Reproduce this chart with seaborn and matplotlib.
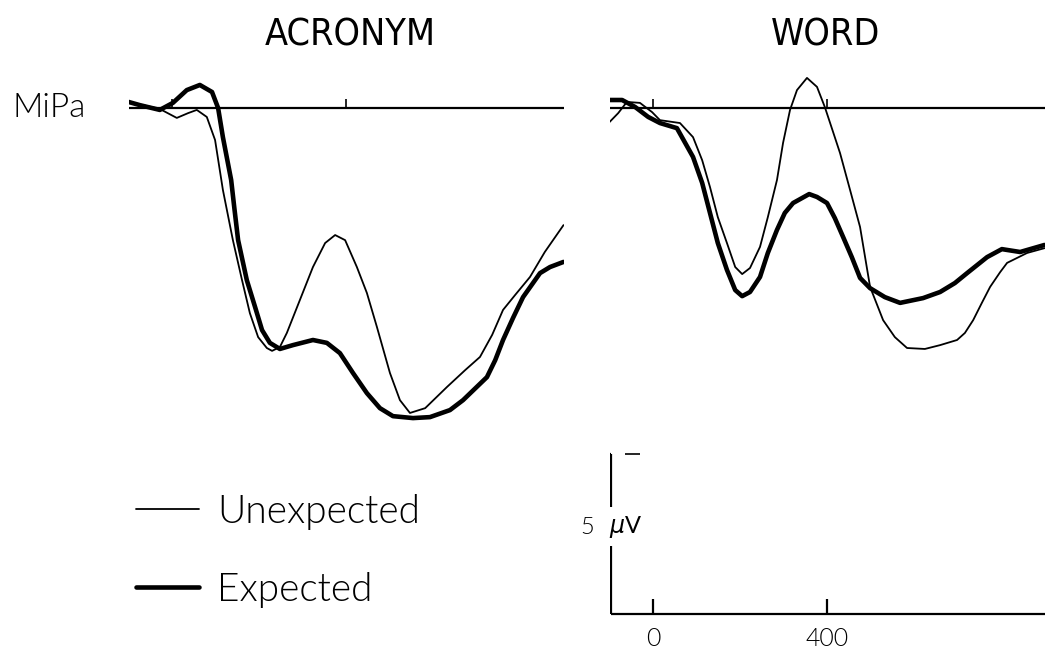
import numpy as np
import pandas as pd
import matplotlib
matplotlib.use("Agg")
import matplotlib.pyplot as plt
import seaborn as sns

# ---------------- data (time in ms, amplitude in microvolts, negative plotted up) ----------------
acr_unexp_t = [-100, -67, -28, 11, 37, 57, 80, 99, 117, 140, 161, 179, 198, 218, 230, 248, 264,
               294, 324, 352, 375, 398, 425, 448, 471, 501, 524, 547, 582, 632, 674, 708, 736,
               761, 789, 823, 857, 900]
acr_unexp_v = [-0.16, -0.09, 0.03, 0.31, 0.16, 0.06, 0.28, 1.0, 2.56, 4.13, 5.38, 6.41, 7.16,
               7.5, 7.59, 7.47, 7.03, 6.0, 4.97, 4.22, 3.97, 4.13, 4.97, 5.78, 6.84, 8.28, 9.13,
               9.53, 9.38, 8.72, 8.19, 7.78, 7.09, 6.31, 5.84, 5.28, 4.5, 3.66]

acr_exp_t = [-100, -74, -28, 2, 34, 64, 92, 106, 117, 136, 143, 152, 172, 191, 207, 225, 248,
             278, 324, 356, 386, 416, 448, 478, 508, 554, 593, 639, 669, 724, 743, 761, 784,
             807, 846, 869, 900]
acr_exp_v = [-0.19, -0.09, 0.06, -0.16, -0.56, -0.72, -0.5, 0.0, 0.91, 2.25, 3.09, 4.13, 5.38,
             6.22, 6.94, 7.34, 7.53, 7.41, 7.25, 7.34, 7.66, 8.28, 8.91, 9.38, 9.63, 9.69, 9.66,
             9.44, 9.13, 8.41, 7.88, 7.25, 6.56, 5.91, 5.16, 4.97, 4.81]

word_unexp_t = [-100, -80, -60, -30, -2, 16, 62, 92, 113, 131, 149, 170, 189, 205, 223, 246,
                264, 285, 299, 315, 331, 354, 377, 395, 414, 430, 453, 476, 499, 529, 556, 584,
                625, 660, 699, 717, 736, 756, 775, 798, 814, 860, 900]
word_unexp_v = [0.44, 0.16, -0.19, -0.16, 0.13, 0.38, 0.47, 0.91, 1.63, 2.47, 3.41, 4.22, 4.97,
                5.19, 5.0, 4.34, 3.41, 2.25, 1.09, 0.06, -0.56, -0.94, -0.66, -0.03, 0.75, 1.41,
                2.56, 3.72, 5.59, 6.63, 7.16, 7.5, 7.53, 7.41, 7.25, 7.03, 6.63, 6.09, 5.59, 5.13,
                4.84, 4.53, 4.38]

word_exp_t = [-100, -71, -41, -11, 16, 55, 92, 113, 131, 149, 170, 189, 205, 223, 246, 264, 285,
              303, 322, 359, 377, 400, 418, 437, 457, 476, 499, 533, 568, 621, 660, 694, 722,
              768, 802, 844, 900]
word_exp_v = [-0.25, -0.25, -0.03, 0.28, 0.47, 0.63, 1.53, 2.34, 3.28, 4.22, 5.06, 5.69, 5.88,
              5.75, 5.28, 4.53, 3.81, 3.28, 2.97, 2.69, 2.78, 2.97, 3.44, 4.03, 4.66, 5.31, 5.63,
              5.91, 6.09, 5.94, 5.75, 5.47, 5.16, 4.66, 4.41, 4.5, 4.28]

panels = ["ACRONYM", "WORD"]
conditions = ["Unexpected", "Expected"]
x_ticks = [0, 400]
x_tick_labels = ["0", "400"]
scale_uv = 5
channel = "MiPa"

# ---------------- long table ----------------
rows = []
for panel, cond, ts, vs in [
    ("ACRONYM", "Unexpected", acr_unexp_t, acr_unexp_v),
    ("ACRONYM", "Expected", acr_exp_t, acr_exp_v),
    ("WORD", "Unexpected", word_unexp_t, word_unexp_v),
    ("WORD", "Expected", word_exp_t, word_exp_v),
]:
    for t, v in zip(ts, vs):
        rows.append({"panel": panel, "condition": cond, "time": t, "amp": v})
df = pd.DataFrame(rows)

# ---------------- style ----------------
sns.set_theme(style="white")
plt.rcParams["font.family"] = ["Lato", "DejaVu Sans"]
plt.rcParams["text.color"] = "black"
plt.rcParams["mathtext.fontset"] = "dejavusans"
LIGHT = 300

W, H = 1050, 659
fig = plt.figure(figsize=(W / 100, H / 100), dpi=100)
fig.patch.set_facecolor("white")

px_per_ms = 0.435
px_per_uv = 32.0
base_py = 108.0
zero_px = {"ACRONYM": 172.0, "WORD": 653.0}

axes = {}
for panel in panels:
    left = zero_px[panel] - 100 * px_per_ms
    ax = fig.add_axes([left / W, 0, 1000 * px_per_ms / W, 1])
    ax.set_xlim(-100, 900)
    ax.set_ylim((H - base_py) / px_per_uv, -base_py / px_per_uv)
    ax.axis("off")
    axes[panel] = ax

palette = {"Unexpected": "black", "Expected": "black"}
sizes = {"Unexpected": 1.3, "Expected": 3.3}

for panel in panels:
    ax = axes[panel]
    sub = df[df.panel == panel]
    sns.lineplot(data=sub, x="time", y="amp", hue="condition", size="condition",
                 hue_order=conditions, size_order=conditions,
                 palette=palette, sizes=sizes, estimator=None, sort=False,
                 ax=ax, legend=(panel == "ACRONYM"),
                 solid_joinstyle="round", solid_capstyle="round")
    ax.axhline(0, color="black", lw=1.6, zorder=1)
    ax.vlines(x_ticks, -0.27, 0, color="black", lw=1.2)

# legend
axl = axes["ACRONYM"]
handles, labels = axl.get_legend_handles_labels()
hl = {l: h for h, l in zip(handles, labels)}
axl.legend([hl[c] for c in conditions], conditions, loc="upper left",
           bbox_to_anchor=(136 / W, 1 - 494 / H), bbox_transform=fig.transFigure,
           frameon=False, handlelength=1.63, handletextpad=0.46,
           labelspacing=1.08, borderpad=0, borderaxespad=0,
           prop={"family": ["Lato", "DejaVu Sans"], "size": 28, "weight": LIGHT})

# scale bar (right panel)
axr = axes["WORD"]
bar_x = -97
axis_v = 15.8
top_v = axis_v - scale_uv
axr.vlines(bar_x, top_v, 12.47, color="black", lw=1.6)
axr.vlines(bar_x, 13.69, axis_v, color="black", lw=1.6)
axr.hlines(top_v, -120, bar_x, color="black", lw=1.6)
axr.hlines(top_v, -64, -30, color="black", lw=1.2)
axr.hlines(axis_v, bar_x, 900, color="black", lw=1.6)
axr.vlines(x_ticks, axis_v - 0.47, axis_v, color="black", lw=1.6)
for xt, lab in zip(x_ticks, x_tick_labels):
    axr.text(xt, 16.6, lab, ha="center", va="center", fontsize=18, fontweight=LIGHT,
             color="black")
axr.text(-152, 13.1, str(scale_uv), ha="center", va="center", fontsize=17,
         fontweight=LIGHT, color="black")
axr.text(-64, 13.1, r"$\mu$V", ha="center", va="center", fontsize=17, color="black")

# titles and channel label
for panel, cx in [("ACRONYM", 350), ("WORD", 826)]:
    fig.text(cx / W, 1 - 45 / H, panel, ha="center", va="baseline", fontsize=27,
             family=["DejaVu Sans"], fontstretch="condensed", fontweight="light",
             color="black")
fig.text(12 / W, 1 - 117 / H, channel, ha="left", va="baseline", fontsize=24,
         fontweight=LIGHT, color="black")

fig.savefig("out.png", dpi=100, facecolor="white")
